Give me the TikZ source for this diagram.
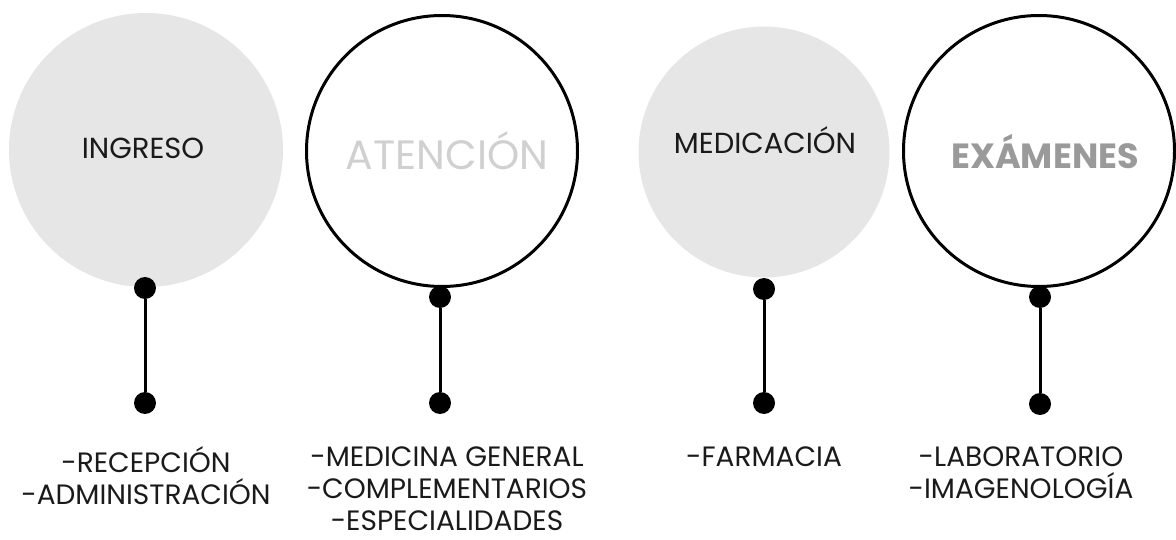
\documentclass[tikz,border=0pt]{standalone}
\usepackage{fontspec}
\setmainfont{Poppins}
\definecolor{circfill}{HTML}{E6E6E6}
\definecolor{lightlbl}{HTML}{D0D0D0}
\definecolor{midlbl}{HTML}{9A9A9A}
\definecolor{ink}{HTML}{1A1A1A}
\tikzset{
  filledcirc/.style={circle, fill=circfill, inner sep=0pt, minimum size=#1},
  ringcirc/.style={circle, draw=black, line width=3pt, inner sep=0pt, minimum size=#1},
  dotnode/.style={circle, fill=black, inner sep=0pt, minimum size=22pt},
  stem/.style={line width=3pt, black},
  itemtext/.style={anchor=north, align=center, text=ink, font=\fontsize{28}{32}\selectfont},
}
\begin{document}
\begin{tikzpicture}[x=1pt, y=-1pt]
\useasboundingbox (0,0) rectangle (1176,540);
% circles
\node[filledcirc=274pt] (c1) at (146,150) {};
\node[ringcirc=271pt] (c2) at (442,151) {};
\node[filledcirc=251pt] (c3) at (764,152) {};
\node[ringcirc=271pt] (c4) at (1039,151) {};
% titles
\node[text=ink, font=\fontsize{29}{32}\selectfont] (t1) at (143,148) {INGRESO};
\node[text=lightlbl, font=\fontsize{41}{44}\selectfont] (t2) at (447,151) {ATENCIÓN};
\node[text=ink, font=\fontsize{29}{32}\selectfont] (t3) at (765,140) {MEDICACIÓN};
\node[text=midlbl, font=\bfseries\fontsize{35}{38}\selectfont] (t4) at (1045,152) {EXÁMENES};
% dots
\node[dotnode] (a1) at (145,288) {};
\node[dotnode] (b1) at (145,403) {};
\node[dotnode] (a2) at (440,297) {};
\node[dotnode] (b2) at (440,403) {};
\node[dotnode] (a3) at (764,289) {};
\node[dotnode] (b3) at (764,403) {};
\node[dotnode] (a4) at (1040,297) {};
\node[dotnode] (b4) at (1040,404) {};
\draw[stem] (a1) -- (b1);
\draw[stem] (a2) -- (b2);
\draw[stem] (a3) -- (b3);
\draw[stem] (a4) -- (b4);
% item lists
\node[itemtext] (l1) at (146,443) {-RECEPCIÓN\\-ADMINISTRACIÓN};
\node[itemtext] (l2) at (447,443) {-MEDICINA GENERAL\\-COMPLEMENTARIOS\\-ESPECIALIDADES};
\node[itemtext] (l3) at (764,443) {-FARMACIA};
\node[itemtext] (l4) at (1021,443) {-LABORATORIO\\-IMAGENOLOGÍA};
\end{tikzpicture}
\end{document}
